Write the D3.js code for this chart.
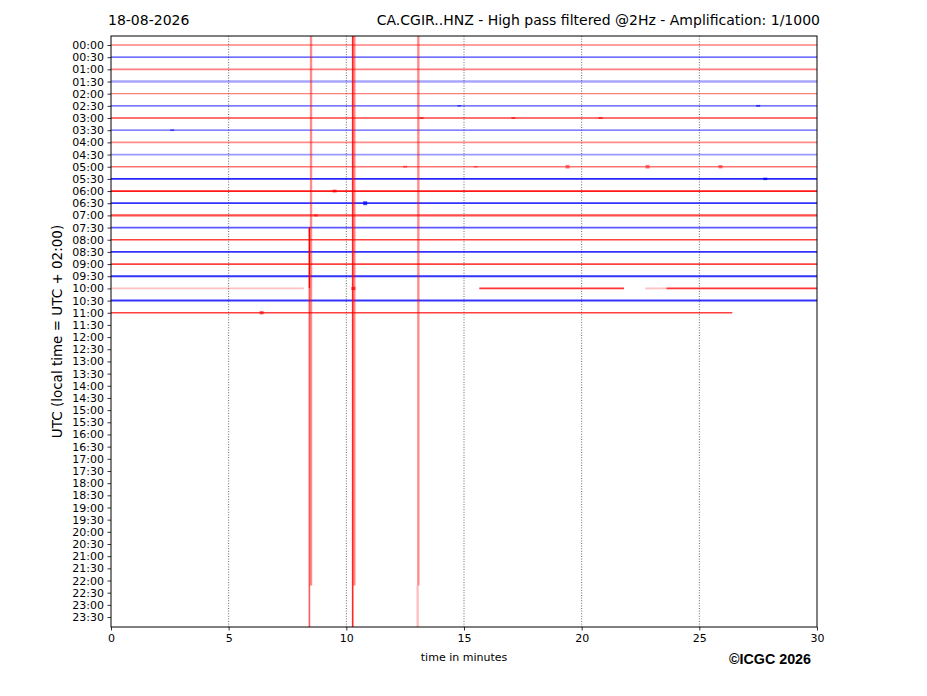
<!DOCTYPE html>
<html>
<head>
<meta charset="utf-8">
<script src="https://cdn.jsdelivr.net/npm/d3@7"></script>
<style>
  body { margin: 0; background: #fff; }
</style>
</head>
<body>
<div id="heli"></div>
<script>
// hour labels for every half-hour row
var rowLabels = ["00:00", "00:30", "01:00", "01:30", "02:00", "02:30", "03:00", "03:30",
  "04:00", "04:30", "05:00", "05:30", "06:00", "06:30", "07:00", "07:30",
  "08:00", "08:30", "09:00", "09:30", "10:00", "10:30", "11:00", "11:30",
  "12:00", "12:30", "13:00", "13:30", "14:00", "14:30", "15:00", "15:30",
  "16:00", "16:30", "17:00", "17:30", "18:00", "18:30", "19:00", "19:30",
  "20:00", "20:30", "21:00", "21:30", "22:00", "22:30", "23:00", "23:30"];

var minuteTicks = [0, 5, 10, 15, 20, 25, 30];

// background noise amplitude of each recorded row (in row units)
var rowNoise = [0.11, 0.10, 0.13, 0.20, 0.11, 0.10, 0.11, 0.11, 0.13, 0.15, 0.12, 0.16,
  0.15, 0.14, 0.17, 0.14, 0.14, 0.14, 0.14, 0.16, 0.15, 0.16, 0.13];

// how dark each row trace looks
var rowAlpha = [0.5, 0.75, 0.5, 0.35, 0.5, 0.7, 0.75, 0.65, 0.45, 0.4, 0.55, 0.85,
  0.9, 0.8, 0.7, 0.65, 0.75, 0.8, 0.75, 0.8, 0.8, 0.8, 0.75];

// recorded spans: [row, from minute, to minute, relative amplitude]
var traceSpans = [
  [0, 0, 30, 1], [1, 0, 30, 1], [2, 0, 30, 1], [3, 0, 30, 1], [4, 0, 30, 1],
  [5, 0, 30, 1], [6, 0, 30, 1], [7, 0, 30, 1], [8, 0, 30, 1], [9, 0, 30, 1],
  [10, 0, 30, 1], [11, 0, 30, 1], [12, 0, 30, 1], [13, 0, 30, 1], [14, 0, 30, 1],
  [15, 0, 30, 1], [16, 0, 30, 1], [17, 0, 30, 1], [18, 0, 30, 1], [19, 0, 30, 1],
  [20, 0, 8.2, 0.3], [20, 15.65, 21.8, 1], [20, 22.7, 23.6, 0.3], [20, 23.6, 30, 1],
  [21, 0, 30, 1], [22, 0, 26.4, 1]
];

// small transients: [row, minute, amplitude in rows]
var blips = [
  [5, 14.8, 0.06], [5, 27.5, 0.08], [6, 13.2, 0.07], [6, 17.1, 0.07], [6, 20.8, 0.08],
  [7, 2.6, 0.07], [10, 12.5, 0.08], [10, 15.5, 0.06], [10, 19.4, 0.15], [10, 22.8, 0.15],
  [10, 25.9, 0.14], [11, 27.8, 0.1], [12, 9.5, 0.11], [13, 10.8, 0.16], [14, 8.7, 0.09],
  [20, 10.3, 0.13], [22, 6.4, 0.13]
];

// large clipped arrivals: [minute, top row, bottom row, strength]
var spikes = [
  [8.50, -2, 44.4, 0.45],
  [8.43, 20.0, 50, 0.65],
  [8.43, 15.0, 20.0, 1],
  [10.34, -2, 44.4, 0.45],
  [10.27, -2, 50, 0.85],
  [13.06, -2, 44.4, 0.45],
  [13.03, 44.4, 50, 0.25]
];

var svgWidth = 927;
var svgHeight = 696;
var margin = { top: 36, right: 110, bottom: 69, left: 111 };
var width = svgWidth - margin.left - margin.right;
var height = svgHeight - margin.top - margin.bottom;

var svg = d3.select("#heli")
  .append("svg")
  .attr("width", svgWidth)
  .attr("height", svgHeight)
  .style("font-family", "'DejaVu Sans', sans-serif");

var chartGroup = svg.append("g")
  .attr("transform", `translate(${margin.left}, ${margin.top})`);

var xScale = d3.scaleLinear().domain([0, 30]).range([0, width]);
var yScale = d3.scaleLinear().domain([-0.74, 47.82]).range([0, height]);
var rowPx = d => yScale(d) - yScale(0);

chartGroup.append("clipPath").attr("id", "plotClip")
  .append("rect").attr("width", width).attr("height", height);

// dotted minute grid
chartGroup.selectAll(".grid")
  .data(minuteTicks.slice(1, -1))
  .enter()
  .append("line")
  .attr("x1", d => xScale(d)).attr("x2", d => xScale(d))
  .attr("y1", 0).attr("y2", height)
  .attr("stroke", "#444")
  .attr("stroke-width", 0.8)
  .attr("stroke-dasharray", "1,1.6");

var traces = chartGroup.append("g").attr("clip-path", "url(#plotClip)");

var rowColor = r => (r % 2 === 0 ? "#ff0000" : "#0000ff");

traces.selectAll(".span")
  .data(traceSpans)
  .enter()
  .append("line")
  .attr("x1", d => xScale(d[1])).attr("x2", d => xScale(d[2]))
  .attr("y1", d => yScale(d[0])).attr("y2", d => yScale(d[0]))
  .attr("stroke", d => rowColor(d[0]))
  .attr("stroke-opacity", d => rowAlpha[d[0]] * d[3])
  .attr("stroke-width", d => rowPx(rowNoise[d[0]]));

traces.selectAll(".blip")
  .data(blips)
  .enter()
  .append("rect")
  .attr("x", d => xScale(d[1]) - 2)
  .attr("width", 4)
  .attr("y", d => yScale(d[0] - d[2]))
  .attr("height", d => rowPx(2 * d[2]))
  .attr("fill", d => rowColor(d[0]))
  .attr("fill-opacity", d => rowAlpha[d[0]] * 0.9);

traces.selectAll(".spike")
  .data(spikes)
  .enter()
  .append("line")
  .attr("x1", d => xScale(d[0])).attr("x2", d => xScale(d[0]))
  .attr("y1", d => yScale(d[1])).attr("y2", d => yScale(d[2]))
  .attr("stroke", "#ff0000")
  .attr("stroke-opacity", d => d[3])
  .attr("stroke-width", d => (d[3] < 0.6 ? 2.4 : 1.6));

// axes
var leftAxis = d3.axisLeft(yScale)
  .tickValues(d3.range(rowLabels.length))
  .tickFormat(i => rowLabels[i])
  .tickSize(3.5).tickPadding(3.5);

var bottomAxis = d3.axisBottom(xScale)
  .tickValues(minuteTicks)
  .tickFormat(d3.format("d"))
  .tickSize(3.5).tickPadding(3.5);

var yAxis = chartGroup.append("g").call(leftAxis);
var xAxis = chartGroup.append("g")
  .attr("transform", `translate(0, ${height})`)
  .call(bottomAxis);

[yAxis, xAxis].forEach(function (ax) {
  ax.attr("font-family", null).attr("font-size", null);
  ax.select(".domain").remove();
  ax.selectAll("text")
    .style("font-size", "11px")
    .attr("fill", "#000");
  ax.selectAll("line").attr("stroke", "#000").attr("stroke-width", 0.8);
});

chartGroup.append("rect")
  .attr("width", width).attr("height", height)
  .attr("fill", "none")
  .attr("stroke", "#000")
  .attr("stroke-width", 1);

// labels
svg.append("text")
  .attr("x", margin.left - 3).attr("y", 25)
  .style("font-size", "14px")
  .text("18-08-2026");

svg.append("text")
  .attr("x", margin.left + width + 3).attr("y", 25)
  .attr("text-anchor", "end")
  .style("font-size", "14px")
  .text("CA.CGIR..HNZ - High pass filtered @2Hz - Amplification: 1/1000");

svg.append("text")
  .attr("transform", `translate(62, ${margin.top + height / 2}) rotate(-90)`)
  .attr("text-anchor", "middle")
  .style("font-size", "13.5px")
  .text("UTC (local time = UTC + 02:00)");

svg.append("text")
  .attr("x", margin.left + width / 2).attr("y", 661)
  .attr("text-anchor", "middle")
  .style("font-size", "11px")
  .text("time in minutes");

svg.append("text")
  .attr("x", 811).attr("y", 664)
  .attr("text-anchor", "end")
  .style("font-family", "'Liberation Sans', Arial, sans-serif")
  .style("font-weight", "bold")
  .style("font-size", "14.3px")
  .text("©ICGC 2026");
</script>
</body>
</html>
